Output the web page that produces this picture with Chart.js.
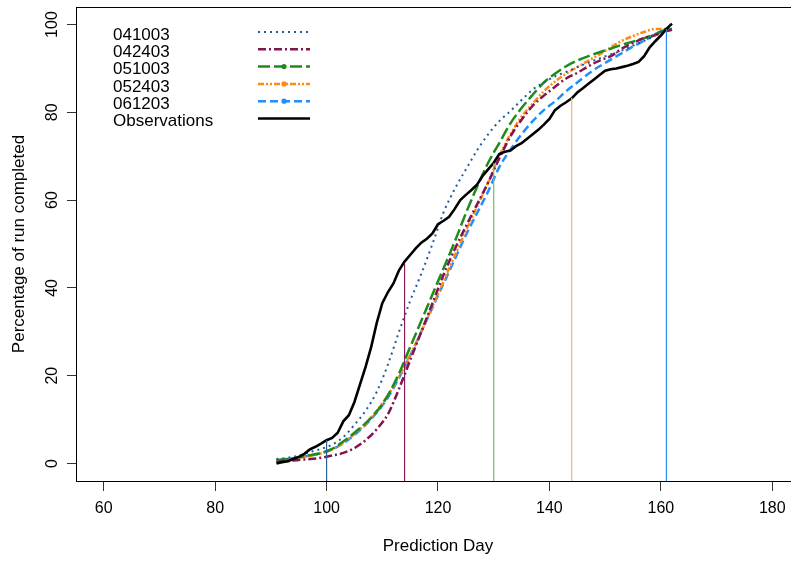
<!DOCTYPE html>
<html>
<head>
<meta charset="utf-8">
<script src="https://cdn.jsdelivr.net/npm/chart.js@4.4.1/dist/chart.umd.min.js"></script>
<style>
  html, body { margin: 0; padding: 0; background: #fff; overflow: hidden; }
  #wrap { width: 800px; height: 561px; }
</style>
</head>
<body>
<div id="wrap"><canvas id="runChart" width="800" height="561"></canvas></div>
<script>
// --- data ---
const xTicks = [60, 80, 100, 120, 140, 160, 180];
const yTicks = [0, 20, 40, 60, 80, 100];

const obsDays = [91, 92, 93, 94, 95, 96, 97, 98, 99, 100, 101, 102, 103, 104, 105, 106, 107, 108, 109, 110,
  111, 112, 113, 114, 115, 116, 117, 118, 119, 120, 121, 122, 123, 124, 125, 126, 127, 128, 129, 130,
  131, 132, 133, 134, 135, 136, 137, 138, 139, 140, 141, 142, 143, 144, 145, 146, 147, 148, 149, 150,
  151, 152, 153, 154, 155, 156, 157, 158, 159, 160, 161, 162];
const obsPct = [0, 0.3, 0.5, 1, 1.5, 2.2, 3.2, 3.8, 4.5, 5.3, 5.8, 7, 9.6, 11, 14, 18, 22, 26.5, 32, 36.5,
  39, 41, 44, 46, 47.5, 49, 50.3, 51.2, 52.4, 54.5, 55.3, 56.2, 58, 60, 61.2, 62.3, 63.5, 65.5, 67, 68.5,
  70.5, 71, 71.3, 72.3, 73, 74, 75, 76, 77.2, 78.5, 80.5, 81.5, 82.3, 83.2, 84.5, 85.5, 86.5, 87.5, 88.5, 89.5,
  89.8, 90, 90.3, 90.6, 91, 91.5, 92.8, 94.8, 96.2, 97.5, 99, 100.2];

const modelDays = [91, 93, 95, 97, 99, 101, 103, 105, 107, 109, 111, 113, 115, 117, 119, 121, 123, 125, 127, 129,
  131, 133, 135, 137, 139, 141, 143, 145, 147, 149, 151, 153, 155, 157, 159, 161, 162];
const run041003 = [1, 1.3, 1.8, 2.6, 3.3, 4.3, 6, 8.8, 12, 16.3, 22.5, 30, 37, 43.2, 50, 57.2, 62.5, 67, 71.3, 75,
  78, 80.3, 82.8, 85.2, 86.8, 88.2, 89.2, 90.3, 91.3, 92.3, 93.2, 94.1, 95.2, 96.3, 97.5, 99, 99];
const run042403 = [0.3, 0.5, 0.8, 1, 1.3, 1.8, 2.4, 3.5, 5.3, 7.8, 11.2, 17, 23.5, 30, 36.5, 43, 48.8, 54, 59, 64,
  69.5, 74.5, 78.3, 81.5, 83.8, 85.8, 87.7, 89, 90.5, 91.8, 92.8, 94.5, 95.8, 96.9, 97.6, 98.5, 98.8];
const run051003 = [0.8, 1, 1.4, 1.9, 2.4, 3.3, 5, 7, 9.2, 11.8, 15.5, 20.5, 26.5, 32.5, 38.5, 44.5, 50.5, 57, 63, 68.5,
  73, 77.5, 81, 84, 86.8, 88.8, 90.5, 91.8, 92.8, 93.7, 94.5, 95.4, 96.1, 96.9, 97.8, 98.8, 99];
const run052403 = [0.5, 0.8, 1.2, 1.7, 2.3, 3.2, 4.7, 6.7, 9, 12, 15.5, 19.8, 24.7, 30, 35.8, 41.5, 47.3, 53, 58.5, 64,
  70, 75, 79, 82, 84.8, 87, 88.8, 90.3, 91.8, 93.2, 94.8, 96.3, 97.4, 98.3, 99, 99, 98.8];
const run061203 = [0.7, 1, 1.4, 1.8, 2.3, 3.2, 4.6, 6.5, 8.8, 11.6, 15, 19.5, 24.5, 30, 35.5, 41, 46.5, 52, 57, 62,
  67.5, 71.5, 75, 78, 80.5, 82.5, 84.8, 86.8, 88.8, 90.5, 92, 93.5, 95, 96.3, 97.8, 98.8, 98.8];

// vertical markers: prediction day and where they stop
const markerDays = [100, 114, 130, 144, 161];
const markerTops = [5.3, 45.5, 68.4, 83.3, 99];
const markerColors = ['#2a5f9e', '#8b1a5a', '#6cbf6c', '#f8b070', '#2b8cf0'];

const series = [
  { name: '041003', pct: run041003, color: '#215b99', dash: [2, 4], width: 2, dot: false },
  { name: '042403', pct: run042403, color: '#84134f', dash: [8, 3, 2, 3], width: 2.5, dot: false },
  { name: '051003', pct: run051003, color: '#1c8c1c', dash: [12, 4], width: 2.5, dot: true },
  { name: '052403', pct: run052403, color: '#ff8a12', dash: [6, 2, 2, 2, 2, 2], width: 2.5, dot: true },
  { name: '061203', pct: run061203, color: '#1e8fff', dash: [8, 4], width: 2.5, dot: true }
];

const X_MIN = 55.2, X_MAX = 184.8, Y_MIN = -4, Y_MAX = 104;
const FONT = 'Liberation Sans, Arial, Helvetica, sans-serif';

const datasets = [];
markerDays.forEach((d, i) => {
  datasets.push({
    label: 'marker' + d,
    data: [{ x: d, y: Y_MIN }, { x: d, y: markerTops[i] }],
    borderColor: markerColors[i], borderWidth: 1.2, pointRadius: 0, order: 0
  });
});
datasets.push({
  label: 'Observations',
  data: obsDays.map((d, i) => ({ x: d, y: obsPct[i] })),
  borderColor: '#000', borderWidth: 2.6, pointRadius: 0, order: 1
});
series.forEach((s, k) => {
  datasets.push({
    label: s.name,
    data: modelDays.map((d, i) => ({ x: d, y: s.pct[i] })),
    borderColor: s.color, borderWidth: s.width, borderDash: s.dash,
    cubicInterpolationMode: 'monotone', pointRadius: 0, order: 2 + k
  });
});

// no extra room for tick labels at the ends, like base R
function noEndPadding(s) {
  s.paddingTop = 0; s.paddingBottom = 0; s.paddingLeft = 0; s.paddingRight = 0;
}

// box, rotated y labels and the in-plot legend, drawn like base R graphics
const rStyle = {
  id: 'rStyle',
  afterDatasetsDraw(chart) {
    const { ctx, chartArea: a, scales } = chart;
    ctx.save();
    ctx.strokeStyle = '#000';
    ctx.lineWidth = 1;
    ctx.setLineDash([]);
    ctx.strokeRect(a.left - 0.5, a.top + 0.5, a.right - a.left, a.bottom - a.top);

    // y tick labels turned sideways
    ctx.fillStyle = '#000';
    ctx.font = '16px ' + FONT;
    ctx.textAlign = 'center';
    ctx.textBaseline = 'middle';
    yTicks.forEach(v => {
      const py = scales.y.getPixelForValue(v);
      ctx.save();
      ctx.translate(53, py);
      ctx.rotate(-Math.PI / 2);
      ctx.fillText(String(v), 0, 0);
      ctx.restore();
    });

    // legend
    const rows = series.map(s => s).concat([{ name: 'Observations', color: '#000', dash: [], width: 2.6, dot: false }]);
    ctx.font = '17px ' + FONT;
    ctx.textAlign = 'left';
    rows.forEach((r, i) => {
      const ly = 32 + i * 17.3;
      ctx.fillStyle = '#000';
      ctx.fillText(r.name, 113, ly + 3);
      ctx.strokeStyle = r.color;
      ctx.lineWidth = r.width;
      ctx.setLineDash(r.dash);
      ctx.beginPath();
      ctx.moveTo(258, ly);
      ctx.lineTo(310, ly);
      ctx.stroke();
      if (r.dot) {
        ctx.setLineDash([]);
        ctx.fillStyle = r.color;
        ctx.beginPath();
        ctx.arc(284, ly, 2.6, 0, Math.PI * 2);
        ctx.fill();
      }
    });
    ctx.restore();
  }
};

new Chart(document.getElementById('runChart'), {
  type: 'line',
  data: { datasets },
  options: {
    responsive: false,
    animation: false,
    events: [],
    layout: { padding: { top: 7, right: 1, bottom: 0, left: 0 } },
    plugins: { legend: { display: false }, tooltip: { enabled: false } },
    scales: {
      x: {
        type: 'linear', min: X_MIN, max: X_MAX,
        afterBuildTicks: s => { s.ticks = xTicks.map(v => ({ value: v })); },
        afterFit: s => { s.height = 80; noEndPadding(s); },
        grid: { drawOnChartArea: false, drawTicks: true, tickLength: 10, color: '#333' },
        border: { display: false },
        ticks: { autoSkip: false, maxRotation: 0, color: '#000', padding: 8, font: { family: FONT, size: 16 } },
        title: { display: true, text: 'Prediction Day', color: '#000', font: { family: FONT, size: 17 }, padding: { top: 0, bottom: 4 } }
      },
      y: {
        type: 'linear', min: Y_MIN, max: Y_MAX,
        afterBuildTicks: s => { s.ticks = yTicks.map(v => ({ value: v })); },
        afterFit: s => { s.width = 77; noEndPadding(s); },
        grid: { drawOnChartArea: false, drawTicks: true, tickLength: 10, color: '#333' },
        border: { display: false },
        ticks: { color: 'rgba(0,0,0,0)', font: { family: FONT, size: 16 } },
        title: { display: true, text: 'Percentage of run completed', color: '#000', font: { family: FONT, size: 17 }, padding: { top: 9, bottom: 0 } }
      }
    }
  },
  plugins: [rStyle]
});
</script>
</body>
</html>
